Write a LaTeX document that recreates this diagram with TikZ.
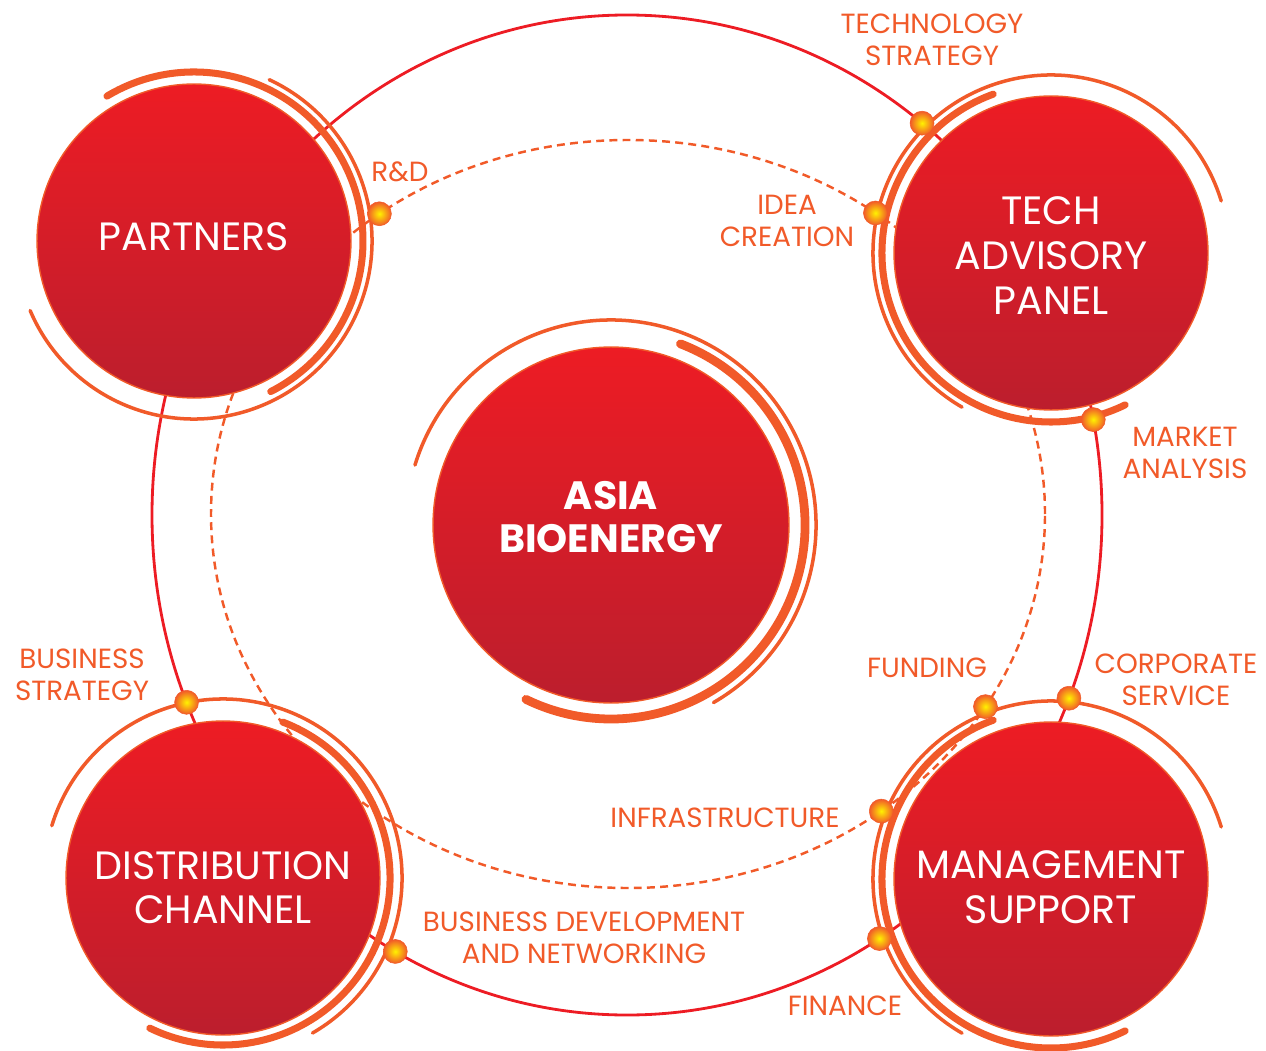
\documentclass[tikz,border=0pt]{standalone}
\usepackage{fontspec}
\setmainfont{Poppins}
\usepackage{tikz}
\usetikzlibrary{backgrounds}
\definecolor{ringorange}{HTML}{F15A29}
\definecolor{ringred}{HTML}{ED1C24}
\definecolor{hubtop}{HTML}{ED1C24}
\definecolor{hubmid}{HTML}{C8202C}
\definecolor{hubbottom}{HTML}{BC1E2D}
\definecolor{knotyellow}{HTML}{FFF200}

\begin{document}
\begin{tikzpicture}[x=0.02cm, y=0.02cm,
	hub/.style={circle, draw=ringorange, line width=0.8pt, top color=hubtop, middle color=hubmid, bottom color=hubbottom, minimum size=6.28cm, inner sep=0pt},
	hubtext/.style={text=white, align=center, font=\fontsize{22.5}{25.5}\selectfont},
	thinarc/.style={ringorange, line width=2pt, line cap=round},
	thickarc/.style={ringorange, line width=4pt, line cap=round},
	knot/.style={circle, draw=ringorange, line width=0.3pt, inner color=knotyellow, outer color=ringorange, minimum size=0.48cm, inner sep=0pt},
	tag/.style={text=ringorange, align=center, font=\fontsize{15.8}{18}\selectfont}]
	\useasboundingbox (0,0) rectangle (1266,-1050);
	\node[hub, label={[hubtext, yshift=2.5pt]center:PARTNERS}] (partners) at (194,-241) {};
	\node[hub, label={[hubtext, yshift=-1.5pt]center:{TECH\\ADVISORY\\PANEL}}] (tap) at (1051,-253) {};
	\node[hub, label={[hubtext, yshift=-5.5pt]center:{DISTRIBUTION\\CHANNEL}}] (distribution) at (223,-878) {};
	\node[hub, label={[hubtext, yshift=-4.5pt]center:{MANAGEMENT\\SUPPORT}}] (management) at (1051,-879) {};
	\node[hub, minimum size=7.12cm, label={[hubtext, yshift=4.5pt, font=\bfseries\fontsize{22.5}{25}\selectfont]center:{ASIA\\BIOENERGY}}] (asia) at (611,-525) {};
	\draw[thickarc] (partners.center) ++(121:169) arc[start angle=121, end angle=-63, radius=169];
	\draw[thinarc] (partners.center) ++(65:178) arc[start angle=65, end angle=-157, radius=178];
	\foreach \n in {tap,management} {\draw[thinarc] (\n.center) ++(17:178) arc[start angle=17, end angle=240, radius=178]; \draw[thickarc] (\n.center) ++(110:169) arc[start angle=110, end angle=296, radius=169];}
	\draw[thickarc] (distribution.center) ++(69:167) arc[start angle=69, end angle=-116, radius=167];
	\draw[thinarc] (distribution.center) ++(163:179) arc[start angle=163, end angle=-60, radius=179];
	\draw[thickarc, line width=5pt] (asia.center) ++(69:194) arc[start angle=69, end angle=-116, radius=194];
	\draw[thinarc] (asia.center) ++(163:205) arc[start angle=163, end angle=-60, radius=205];
	\begin{scope}[on background layer]
		\draw[ringred, line width=1.6pt] (627,-515) ellipse [x radius=475, y radius=500];
		\draw[ringorange, line width=1.4pt, dash pattern=on 4.5pt off 3pt] (628,-514) ellipse [x radius=417, y radius=374];
	\end{scope}
	\path (627,-515) ++(51.6:475 and 500) node[knot] (techstrat) {};
	\path (627,-515) ++(11:475 and 500) node[knot] (market) {};
	\path (627,-515) ++(-21.5:475 and 500) node[knot] (corporate) {};
	\path (627,-515) ++(-57.9:475 and 500) node[knot] (finance) {};
	\path (627,-515) ++(-119.2:475 and 500) node[knot] (bizdev) {};
	\path (627,-515) ++(-158:475 and 500) node[knot] (bizstrat) {};
	\path (628,-514) ++(126.6:417 and 374) node[knot] (rnd) {};
	\path (628,-514) ++(53.6:417 and 374) node[knot] (idea) {};
	\path (628,-514) ++(-31:417 and 374) node[knot] (funding) {};
	\path (628,-514) ++(-52.6:417 and 374) node[knot] (infra) {};
	\node[tag] at (932,-40) {TECHNOLOGY\\STRATEGY};
	\node[tag] at (400,-172) {R\&D};
	\node[tag] at (787,-221) {IDEA\\CREATION};
	\node[tag] at (1185,-453) {MARKET\\ANALYSIS};
	\node[tag] at (82,-675) {BUSINESS\\STRATEGY};
	\node[tag] at (927,-668) {FUNDING};
	\node[tag] at (1176,-680) {CORPORATE\\SERVICE};
	\node[tag] at (725,-818) {INFRASTRUCTURE};
	\node[tag] at (584,-938) {BUSINESS DEVELOPMENT\\AND NETWORKING};
	\node[tag] at (845,-1006) {FINANCE};
\end{tikzpicture}
\end{document}
